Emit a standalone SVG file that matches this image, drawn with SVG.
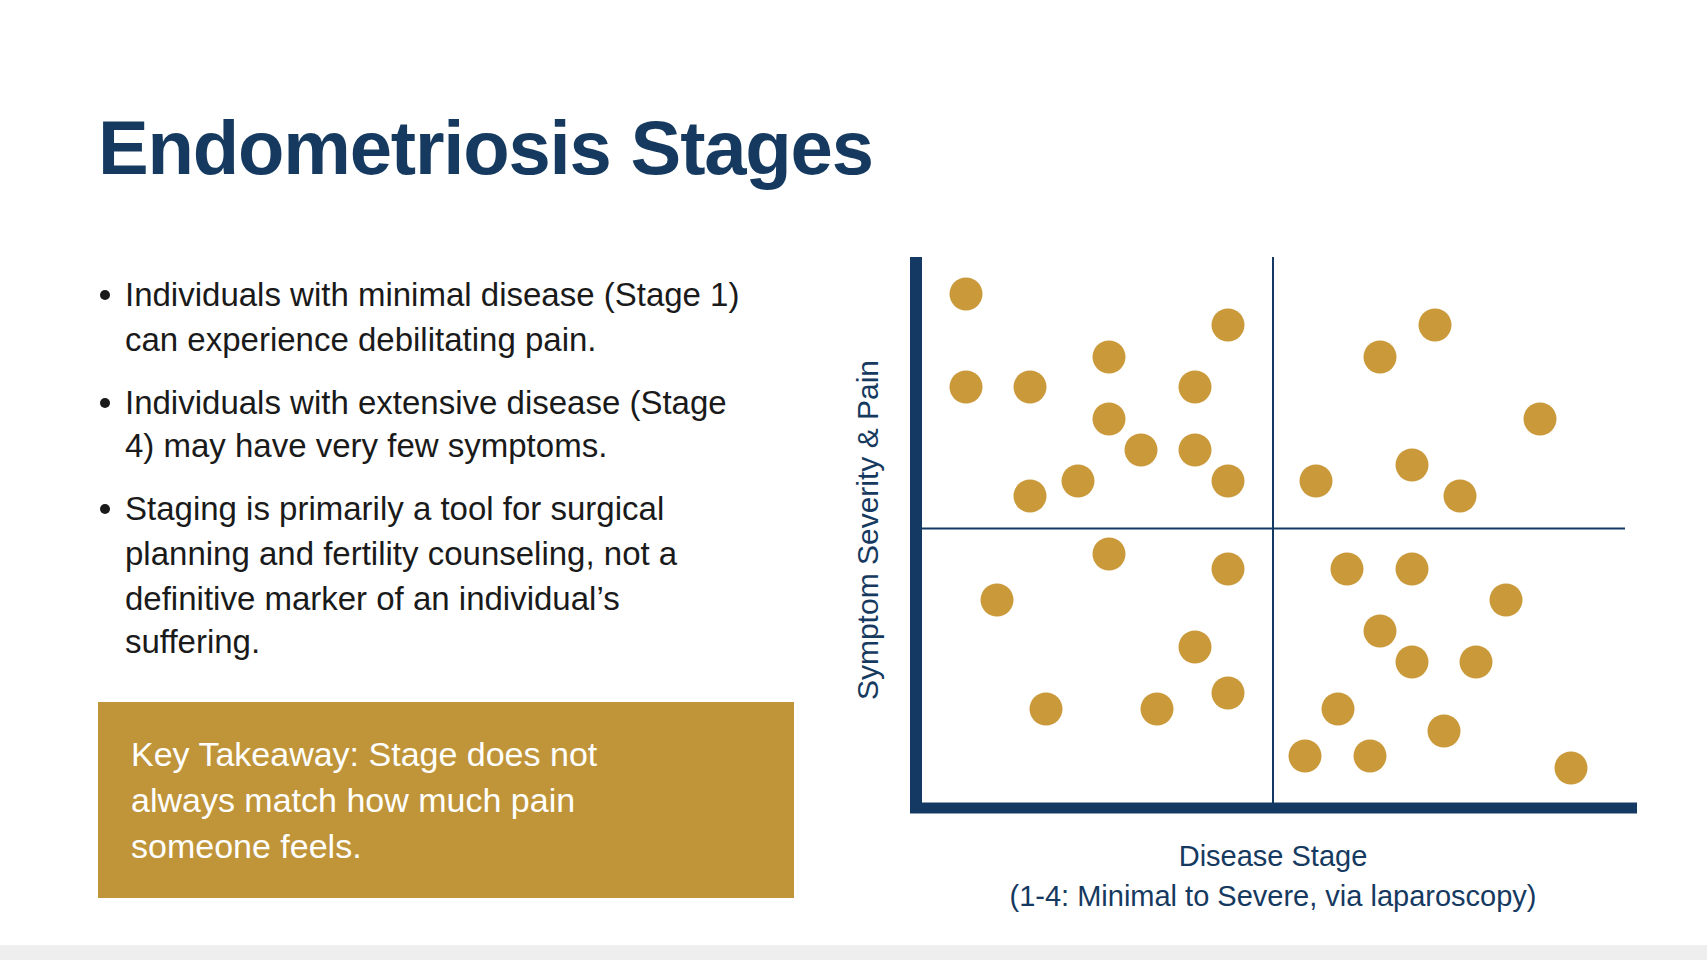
<svg xmlns="http://www.w3.org/2000/svg" width="1707" height="960" viewBox="0 0 1707 960">
<style>
.t{font-family:"Liberation Sans",Arial,sans-serif;fill:#1a1a1a;font-size:33px}
.n{font-family:"Liberation Sans",Arial,sans-serif;fill:#163a5f}
.w{font-family:"Liberation Sans",Arial,sans-serif;fill:#ffffff;font-size:34px}
.d{fill:#c9993a}
</style>
<rect width="1707" height="960" fill="#ffffff"/>
<rect y="945" width="1707" height="15" fill="#eeeeee"/>
<text id="title" class="n" x="98" y="174" font-size="76" font-weight="bold" textLength="776">Endometriosis Stages</text>
<g id="bullets">
<circle cx="105" cy="295" r="5" fill="#1a1a1a"/>
<text class="t" x="125" y="306">Individuals with minimal disease (Stage 1)</text>
<text class="t" x="125" y="351">can experience debilitating pain.</text>
<circle cx="105" cy="403" r="5" fill="#1a1a1a"/>
<text class="t" x="125" y="414">Individuals with extensive disease (Stage</text>
<text class="t" x="125" y="457">4) may have very few symptoms.</text>
<circle cx="105" cy="509" r="5" fill="#1a1a1a"/>
<text class="t" x="125" y="520">Staging is primarily a tool for surgical</text>
<text class="t" x="125" y="565">planning and fertility counseling, not a</text>
<text class="t" x="125" y="610">definitive marker of an individual’s</text>
<text class="t" x="125" y="653">suffering.</text>
</g>
<g id="takeaway">
<rect x="98" y="702" width="696" height="196" fill="#c0953a"/>
<text class="w" x="131" y="766">Key Takeaway: Stage does not</text>
<text class="w" x="131" y="812">always match how much pain</text>
<text class="w" x="131" y="858">someone feels.</text>
</g>
<g id="axes" stroke="#143a63">
<line x1="916" y1="257" x2="916" y2="813" stroke-width="12"/>
<line x1="910" y1="808" x2="1637" y2="808" stroke-width="11"/>
<line x1="1273" y1="257" x2="1273" y2="808" stroke-width="2"/>
<line x1="922" y1="528.5" x2="1625" y2="528.5" stroke-width="2"/>
</g>
<g id="dots">
<circle class="d" cx="966" cy="294" r="16.5"/>
<circle class="d" cx="1228" cy="325" r="16.5"/>
<circle class="d" cx="1109" cy="357" r="16.5"/>
<circle class="d" cx="966" cy="387" r="16.5"/>
<circle class="d" cx="1030" cy="387" r="16.5"/>
<circle class="d" cx="1195" cy="387" r="16.5"/>
<circle class="d" cx="1109" cy="419" r="16.5"/>
<circle class="d" cx="1141" cy="450" r="16.5"/>
<circle class="d" cx="1195" cy="450" r="16.5"/>
<circle class="d" cx="1078" cy="481" r="16.5"/>
<circle class="d" cx="1030" cy="496" r="16.5"/>
<circle class="d" cx="1228" cy="481" r="16.5"/>
<circle class="d" cx="1435" cy="325" r="16.5"/>
<circle class="d" cx="1380" cy="357" r="16.5"/>
<circle class="d" cx="1540" cy="419" r="16.5"/>
<circle class="d" cx="1412" cy="465" r="16.5"/>
<circle class="d" cx="1316" cy="481" r="16.5"/>
<circle class="d" cx="1460" cy="496" r="16.5"/>
<circle class="d" cx="1109" cy="554" r="16.5"/>
<circle class="d" cx="1228" cy="569" r="16.5"/>
<circle class="d" cx="997" cy="600" r="16.5"/>
<circle class="d" cx="1195" cy="647" r="16.5"/>
<circle class="d" cx="1046" cy="709" r="16.5"/>
<circle class="d" cx="1157" cy="709" r="16.5"/>
<circle class="d" cx="1228" cy="693" r="16.5"/>
<circle class="d" cx="1347" cy="569" r="16.5"/>
<circle class="d" cx="1412" cy="569" r="16.5"/>
<circle class="d" cx="1506" cy="600" r="16.5"/>
<circle class="d" cx="1380" cy="631" r="16.5"/>
<circle class="d" cx="1412" cy="662" r="16.5"/>
<circle class="d" cx="1476" cy="662" r="16.5"/>
<circle class="d" cx="1338" cy="709" r="16.5"/>
<circle class="d" cx="1444" cy="731" r="16.5"/>
<circle class="d" cx="1305" cy="756" r="16.5"/>
<circle class="d" cx="1370" cy="756" r="16.5"/>
<circle class="d" cx="1571" cy="768" r="16.5"/>
</g>
<g id="labels">
<text class="n" font-size="30" text-anchor="middle" transform="translate(878 530) rotate(-90)">Symptom Severity &amp; Pain</text>
<text class="n" font-size="29" text-anchor="middle" x="1273" y="866">Disease Stage</text>
<text class="n" font-size="29" text-anchor="middle" x="1273" y="906">(1-4: Minimal to Severe, via laparoscopy)</text>
</g>
</svg>
